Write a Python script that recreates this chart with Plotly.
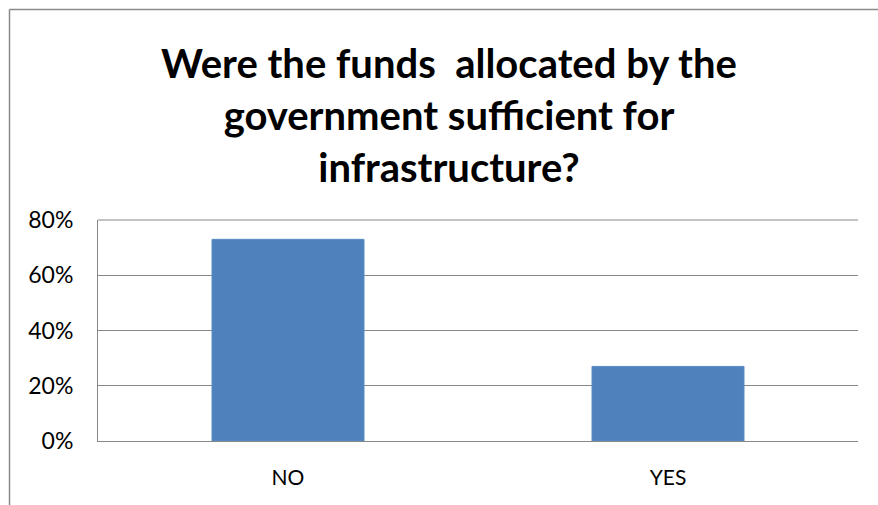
import plotly.graph_objects as go

categories = ["NO", "YES"]
values = [0.73, 0.27]
title_lines = ["Were the funds\u00a0 allocated by the", "government sufficient for", "infrastructure?"]
tick_vals = [0, 0.2, 0.4, 0.6, 0.8]

W, H = 878, 505
L, R, T, B = 98, 20, 220, 64
grid = "#878787"

fig = go.Figure(go.Bar(
    x=categories, y=values, width=0.4,
    marker=dict(color="#4F81BD", line=dict(color="#5B8CC6", width=1)),
))

# chart-area border (left and top edges visible)
pw, ph = W - L - R, H - T - B
x0 = (9.5 - L) / pw
y0 = (H - B - 9.5) / ph
fig.add_shape(type="line", xref="paper", yref="paper", x0=x0, x1=x0, y0=y0, y1=-(B + 5) / ph,
              line=dict(color="#8a8a8a", width=1.5))
fig.add_shape(type="line", xref="paper", yref="paper", x0=x0, x1=(W - L + 5) / pw, y0=y0, y1=y0,
              line=dict(color="#8a8a8a", width=1.5))

fig.update_layout(
    width=W, height=H,
    margin=dict(l=L, r=R, t=T, b=B),
    paper_bgcolor="white", plot_bgcolor="white",
    showlegend=False,
    title=dict(text="<br>".join(title_lines), x=449 / W, xanchor="center",
               y=1 - 78 / H, yanchor="top",
               font=dict(family="Lato", size=40, color="black", weight="bold")),
    font=dict(family="Lato", size=20, color="black"),
    bargap=0.6,
)
fig.update_xaxes(showline=True, linecolor=grid, linewidth=1, showgrid=False, ticks="",
                 tickfont=dict(size=21), ticklabelstandoff=18)
fig.update_yaxes(range=[0, 0.8], tickvals=tick_vals, tickformat=".0%", showgrid=True,
                 gridcolor=grid, gridwidth=1, showline=True, linecolor=grid, linewidth=1,
                 zeroline=False, ticks="", tickfont=dict(size=23), ticklabelstandoff=19)
fig.add_shape(type="line", xref="paper", yref="paper", x0=0, x1=1, y0=1, y1=1,
              line=dict(color=grid, width=1))

fig.write_html("out.html")
